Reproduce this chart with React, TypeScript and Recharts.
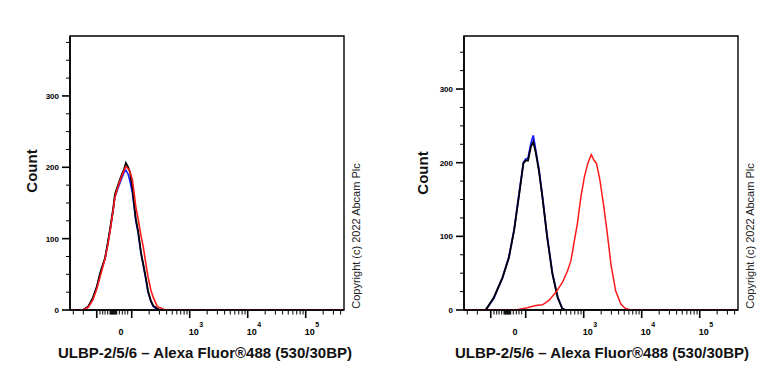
import React from 'react';
import { LineChart, Line, XAxis, YAxis, ReferenceArea } from 'recharts';

// x is in display units of the biexponential axis (10^3 -> 3, 10^4 -> 4 ...)
const X_MIN = 0.936;
const X_MAX = 5.66;

// left panel: isotype / unstained / stained all overlap
const leftBins = [1.16, 1.25, 1.33, 1.40, 1.45, 1.50, 1.54, 1.59, 1.63, 1.68, 1.71, 1.76, 1.82, 1.87, 1.90, 1.94, 1.97, 2.01, 2.04, 2.07, 2.11, 2.16, 2.20, 2.25, 2.28, 2.33, 2.37, 2.44, 2.49, 2.55, 2.60];
const leftBlack = [0, 5, 17, 33, 50, 63, 73, 95, 115, 142, 162, 174, 188, 198, 206, 200, 193, 172, 150, 128, 111, 80, 64, 42, 27, 13, 6, 2, 0, 0, 0];
const leftBlue = [0, 4, 16, 33, 48, 62, 72, 95, 113, 140, 158, 170, 183, 193, 196, 190, 180, 165, 145, 125, 108, 80, 62, 40, 26, 12, 5, 1, 0, 0, 0];
const leftRed = [0, 4, 14, 30, 45, 60, 72, 92, 112, 140, 158, 172, 186, 196, 201, 198, 194, 183, 165, 145, 128, 104, 88, 62, 47, 28, 18, 5, 3, 1, 0];

// right panel: controls left, stained sample shifted
const rightBins = [1.31, 1.45, 1.60, 1.71, 1.80, 1.88, 1.96, 2.00, 2.04, 2.09, 2.13, 2.17, 2.23, 2.29, 2.37, 2.46, 2.55, 2.63, 2.69];
const rightBlack = [0, 17, 44, 71, 108, 153, 199, 203, 203, 222, 228, 215, 188, 152, 99, 49, 17, 2, 0];
const rightBlue = [0, 16, 44, 72, 109, 155, 200, 205, 206, 226, 237, 218, 190, 153, 100, 50, 18, 2, 0];
const rightRedBins = [1.83, 2.03, 2.17, 2.29, 2.40, 2.52, 2.63, 2.72, 2.78, 2.83, 2.89, 2.95, 3.01, 3.07, 3.13, 3.18, 3.22, 3.28, 3.34, 3.40, 3.47, 3.55, 3.64, 3.72, 3.81];
const rightRed = [0, 3, 6, 7, 13, 24, 37, 53, 67, 90, 117, 153, 180, 199, 211, 203, 199, 176, 144, 108, 62, 26, 8, 2, 0];

const LEFT_Y_MAX = 384;
const RIGHT_Y_MAX = 372;
const yLabelled = [0, 100, 200, 300];

const xMajorTicks = [1.397, 2, 3, 4, 5];
const xNearZeroTicks = [0.993, 1.166, 1.453, 1.5, 1.54, 1.586, 1.626, 1.638, 1.649, 1.661, 1.672, 1.684, 1.695, 1.707, 1.718, 1.73, 1.741, 1.786, 1.838, 1.884, 1.931];
const decadeSteps = [2, 3, 4, 5, 6, 7, 8, 9];
const xLabels = [
  { u: 1.8, base: '0', sup: '' },
  { u: 3, base: '10', sup: '3' },
  { u: 4, base: '10', sup: '4' },
  { u: 5, base: '10', sup: '5' },
];

const xTitle = 'ULBP-2/5/6 – Alexa Fluor®488 (530/30BP)';
const yTitle = 'Count';
const copyright = 'Copyright (c) 2022 Abcam Plc';

const FONT = '"Liberation Sans", Arial, Helvetica, sans-serif';
const BLACK = '#000000';
const BLUE = '#1c1cff';
const RED = '#ff1a1a';

const xMinorTicks = [
  ...xNearZeroTicks,
  ...[2, 3, 4].flatMap((d) => decadeSteps.map((k) => d + Math.log10(k))),
  ...[2, 3, 4].map((k) => 5 + Math.log10(k)),
];
const allXTicks = Array.from(new Set([...xMajorTicks, ...xMinorTicks, ...xLabels.map((l) => l.u)])).sort((a, b) => a - b);

const near = (a: number, b: number) => Math.abs(a - b) < 1e-6;

function toPoints(bins: number[], counts: number[]) {
  return [{ u: X_MIN, c: 0 }, ...bins.map((u, i) => ({ u, c: counts[i] })), { u: X_MAX, c: 0 }];
}

function XTick(props: any) {
  const { x, y, payload } = props;
  const v = payload.value;
  const major = xMajorTicks.some((t) => near(t, v));
  const minor = xMinorTicks.some((t) => near(t, v));
  const label = xLabels.find((l) => near(l.u, v));
  return (
    <g>
      {(major || minor) && (
        <line x1={x} x2={x} y1={y} y2={y + (major ? 8 : 4.5)} stroke="#000" strokeWidth={major ? 1.6 : 1} />
      )}
      {label && !label.sup && (
        <text x={x + 1} y={y + 25} textAnchor="middle" fontSize={9} fontWeight="bold" fontFamily={FONT} fill="#000" stroke="none">
          {label.base}
        </text>
      )}
      {label && label.sup && (
        <g>
          <text x={x - 1} y={y + 25} textAnchor="start" fontSize={9} fontWeight="bold" fontFamily={FONT} fill="#000" stroke="none">
            {label.base}
          </text>
          <text x={x + 9.5} y={y + 17} textAnchor="start" fontSize={7} fontWeight="bold" fontFamily={FONT} fill="#000" stroke="none">
            {label.sup}
          </text>
        </g>
      )}
    </g>
  );
}

function YTick(props: any) {
  const { x, y, payload } = props;
  const v = payload.value;
  const major = yLabelled.includes(v);
  return (
    <g>
      <line x1={x - (major ? 8 : 4)} x2={x} y1={y} y2={y} stroke="#000" strokeWidth={major ? 1.6 : 1} />
      {major && (
        <text x={x - 11} y={y + 3} textAnchor="end" fontSize={8} fontWeight="bold" fontFamily={FONT} fill="#000" stroke="none">
          {v}
        </text>
      )}
    </g>
  );
}

function Panel({ yMax, axisWidth, rightMargin, series }: {
  yMax: number;
  axisWidth: number;
  rightMargin: number;
  series: { key: string; color: string; width: number; data: { u: number; c: number }[] }[];
}) {
  const yTicks: number[] = [];
  for (let t = 0; t <= yMax; t += 25) yTicks.push(t);
  return (
    <LineChart width={384} height={384} margin={{ top: 36, right: rightMargin, bottom: 0, left: 0 }}>
      <XAxis
        type="number"
        dataKey="u"
        domain={[X_MIN, X_MAX]}
        allowDataOverflow
        ticks={allXTicks}
        interval={0}
        height={74}
        tickSize={0}
        tickMargin={0}
        tickLine={false}
        tick={<XTick />}
        axisLine={{ stroke: '#000', strokeWidth: 1.6 }}
      />
      <YAxis
        type="number"
        dataKey="c"
        domain={[0, yMax]}
        allowDataOverflow
        ticks={yTicks}
        interval={0}
        width={axisWidth}
        tickSize={0}
        tickMargin={0}
        tickLine={false}
        tick={<YTick />}
        axisLine={{ stroke: '#000', strokeWidth: 1.6 }}
      />
      <ReferenceArea x1={X_MIN} x2={X_MAX} y1={0} y2={yMax} fill="none" fillOpacity={0} stroke="#000" strokeWidth={1.4} ifOverflow="visible" />
      {series.map((s) => (
        <Line
          key={s.key}
          data={s.data}
          dataKey="c"
          type="linear"
          stroke={s.color}
          strokeWidth={s.width}
          dot={false}
          activeDot={false}
          isAnimationActive={false}
        />
      ))}
    </LineChart>
  );
}

export default function App() {
  const leftSeries = [
    { key: 'blue', color: BLUE, width: 1.6, data: toPoints(leftBins, leftBlue) },
    { key: 'black', color: BLACK, width: 1.8, data: toPoints(leftBins, leftBlack) },
    { key: 'red', color: RED, width: 1.6, data: toPoints(leftBins, leftRed) },
  ];
  const rightSeries = [
    { key: 'blue', color: BLUE, width: 1.8, data: toPoints(rightBins, rightBlue) },
    { key: 'black', color: BLACK, width: 1.8, data: toPoints(rightBins, rightBlack) },
    { key: 'red', color: RED, width: 1.5, data: toPoints(rightRedBins, rightRed) },
  ];
  return (
    <div style={{ position: 'absolute', left: 0, top: 0, width: 768, height: 384, background: '#fff' }}>
      <div style={{ position: 'absolute', left: 0, top: 0 }}>
        <Panel yMax={LEFT_Y_MAX} axisWidth={70} rightMargin={40} series={leftSeries} />
      </div>
      <div style={{ position: 'absolute', left: 384, top: 0 }}>
        <Panel yMax={RIGHT_Y_MAX} axisWidth={80} rightMargin={30} series={rightSeries} />
      </div>
      <svg width={768} height={384} style={{ position: 'absolute', left: 0, top: 0, pointerEvents: 'none' }}>
        <text x={31} y={171} transform="rotate(-90 31 171)" textAnchor="middle" dominantBaseline="central" fontSize={15} fontWeight="bold" fontFamily={FONT} fill="#111">{yTitle}</text>
        <text x={422} y={173} transform="rotate(-90 422 173)" textAnchor="middle" dominantBaseline="central" fontSize={15} fontWeight="bold" fontFamily={FONT} fill="#111">{yTitle}</text>
        <text x={205} y={358} textAnchor="middle" fontSize={15} fontWeight="bold" fontFamily={FONT} fill="#111">{xTitle}</text>
        <text x={602} y={358} textAnchor="middle" fontSize={15} fontWeight="bold" fontFamily={FONT} fill="#111">{xTitle}</text>
        <text x={356} y={236} transform="rotate(-90 356 236)" textAnchor="middle" dominantBaseline="central" fontSize={11} fontFamily={FONT} fill="#222">{copyright}</text>
        <text x={750} y={236} transform="rotate(-90 750 236)" textAnchor="middle" dominantBaseline="central" fontSize={11} fontFamily={FONT} fill="#222">{copyright}</text>
      </svg>
    </div>
  );
}
